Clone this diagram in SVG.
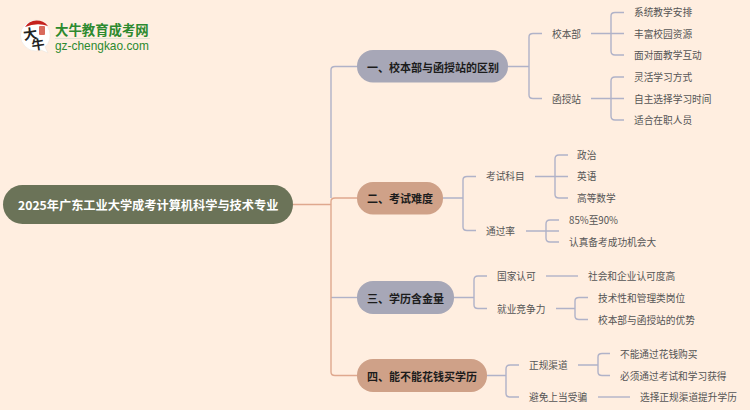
<svg xmlns="http://www.w3.org/2000/svg" width="750" height="410" viewBox="0 0 750 410">
<style>
text{font-family:"Noto Sans CJK SC","Liberation Sans",sans-serif;dominant-baseline:central}
.r{font-size:12.2px;font-weight:700;fill:#fff}
.b{font-size:11px;font-weight:700;fill:#1c1c1c}
.l{font-size:9.7px;fill:#555}
.c{fill:none;stroke:#b0b2c8;stroke-width:1.4}
.o{fill:none;stroke:#dfa88e;stroke-width:1.4}
.p{fill:#a7a7b7}
.q{fill:#cfa188}
</style>
<rect width="750" height="410" fill="#ffeee0"/>
<g id="logo">
<path d="M36 20a15.500 15.500 0 1 0 0 31q3 0 5-1l7 3-3-6a15.500 15.500 0 0 0-9-27z" fill="#fff" stroke="#e8e2da" stroke-width=".5"/>
<path d="M25 27a14 14 0 0 1 23-1q-11-4-23 1z" fill="#c5221f"/>
<rect x="39" y="26" width="6" height="9" rx="1" fill="#d96a5c"/>
<text x="30" y="33" font-size="14" font-weight="700" fill="#222" transform="rotate(-8 30 33)" text-anchor="middle">大</text>
<text x="38" y="44" font-size="13" font-weight="700" fill="#222" transform="rotate(-8 38 44)" text-anchor="middle">牛</text>
<text x="55" y="28.500" font-size="13.400" font-weight="700" fill="#2c8a2f">大牛教育成考网</text>
<rect x="55" y="38" width="95" height="1" fill="#dfe3d2"/>
<text x="55" y="45.500" font-size="11.900" fill="#2c8a2f" style="font-family:'Liberation Sans',sans-serif">gz-chengkao.com</text>
</g>
<g id="connectors">
<path class="c" d="M331 198V70Q331 66.500 335 66.500H357"/>
<path class="c" d="M331 297.500H357"/>
<path class="o" d="M293 204.500H331M331 201.500Q331 198 335 198H357M331 201.500V372Q331 375.500 335 375.500H357"/>
<path class="c" d="M508 66.500H529M529 37Q529 33.500 533 33.500H542M529 37V95Q529 98.500 533 98.500H542"/>
<path class="c" d="M591 33.500H624M611 16Q611 12.500 615 12.500H624M611 16V51Q611 55 615 55H624"/>
<path class="c" d="M591 98.500H624M611 81Q611 77 615 77H624M611 81V116Q611 120 615 120H624"/>
<path class="c" d="M443 198H463M463 180Q463 176.500 467 176.500H476M463 180V227Q463 230.500 467 230.500H476"/>
<path class="c" d="M535 176.500H568M555 159Q555 155 559 155H568M555 159V194.500Q555 198 559 198H568"/>
<path class="c" d="M526 231H559M546 224Q546 220 550 220H559M546 224V238Q546 242 550 242H559"/>
<path class="c" d="M454 297.500H474M474 280Q474 276 478 276H487M474 280V305Q474 308.500 478 308.500H487"/>
<path class="c" d="M546 276H578"/>
<path class="c" d="M556 308.500H575M575 301Q575 297.500 579 297.500H588M575 301V316Q575 319.500 579 319.500H588"/>
<path class="c" d="M487 375.500H506M506 369Q506 365 510 365H519M506 369V393.500Q506 397 510 397H519"/>
<path class="c" d="M578 365H598M598 357Q598 353.500 602 353.500H610M598 357V372Q598 375.500 602 375.500H610"/>
<path class="c" d="M598 397H630"/>
</g>
<g id="root"><rect x="3" y="185" width="290" height="39" rx="19.500" fill="#6b7358"/><text class="r" x="18" y="204.500">2025年广东工业大学成考计算机科学与技术专业</text></g>
<g id="b1"><rect class="p" x="357" y="50" width="151" height="32.500" rx="16"/><text class="b" x="367" y="66.500">一、校本部与函授站的区别</text></g>
<g id="b2"><rect class="q" x="357" y="182" width="86" height="32.500" rx="16"/><text class="b" x="367" y="198">二、考试难度</text></g>
<g id="b3"><rect class="p" x="357" y="281" width="97" height="33" rx="16"/><text class="b" x="367" y="297.500">三、学历含金量</text></g>
<g id="b4"><rect class="q" x="357" y="359" width="130" height="33" rx="16"/><text class="b" x="367" y="375.500">四、能不能花钱买学历</text></g>
<g id="n1"><text class="l" x="552" y="33.500">校本部</text></g>
<g id="n2"><text class="l" x="634" y="12">系统教学安排</text></g>
<g id="n3"><text class="l" x="634" y="33.500">丰富校园资源</text></g>
<g id="n4"><text class="l" x="634" y="55">面对面教学互动</text></g>
<g id="n5"><text class="l" x="552" y="98.500">函授站</text></g>
<g id="n6"><text class="l" x="634" y="77">灵活学习方式</text></g>
<g id="n7"><text class="l" x="634" y="98.500">自主选择学习时间</text></g>
<g id="n8"><text class="l" x="634" y="120">适合在职人员</text></g>
<g id="n9"><text class="l" x="486" y="176">考试科目</text></g>
<g id="n10"><text class="l" x="577" y="154.500">政治</text></g>
<g id="n11"><text class="l" x="577" y="176">英语</text></g>
<g id="n12"><text class="l" x="577" y="198">高等数学</text></g>
<g id="n13"><text class="l" x="486" y="230.500">通过率</text></g>
<g id="n14"><text class="l" x="569" y="219.500">85%至90%</text></g>
<g id="n15"><text class="l" x="569" y="241.500">认真备考成功机会大</text></g>
<g id="n16"><text class="l" x="497" y="276">国家认可</text></g>
<g id="n17"><text class="l" x="588" y="276">社会和企业认可度高</text></g>
<g id="n18"><text class="l" x="497" y="308.500">就业竞争力</text></g>
<g id="n19"><text class="l" x="598" y="297.500">技术性和管理类岗位</text></g>
<g id="n20"><text class="l" x="598" y="319.500">校本部与函授站的优势</text></g>
<g id="n21"><text class="l" x="529" y="365">正规渠道</text></g>
<g id="n22"><text class="l" x="620" y="353.500">不能通过花钱购买</text></g>
<g id="n23"><text class="l" x="620" y="375.500">必须通过考试和学习获得</text></g>
<g id="n24"><text class="l" x="529" y="397">避免上当受骗</text></g>
<g id="n25"><text class="l" x="640" y="397">选择正规渠道提升学历</text></g>
</svg>
